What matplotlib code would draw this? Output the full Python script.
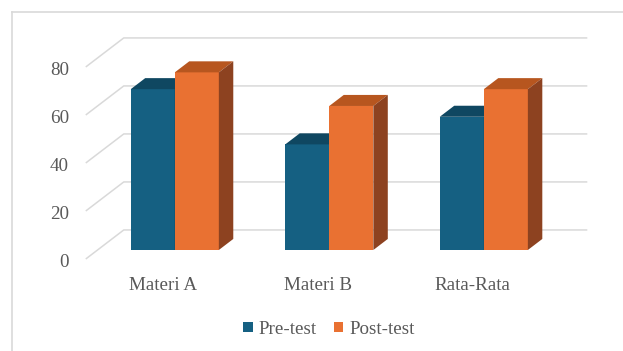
import matplotlib
matplotlib.use("Agg")
import matplotlib.pyplot as plt
from matplotlib.lines import Line2D
from matplotlib.patches import Patch, Polygon

categories = ["Materi A", "Materi B", "Rata-Rata"]
pre_test = [67, 44, 55.5]
post_test = [74, 60, 67]
series_names = ["Pre-test", "Post-test"]
y_ticks = [0, 20, 40, 60, 80]

# face colours: front, top, side
PRE = ("#156082", "#0f4761", "#0d3a50")
POST = ("#e97132", "#b7561f", "#8d4220")
GRID = "#d9d9d9"
TXT = "#595959"
FONT = ["Liberation Serif", "DejaVu Serif"]
FS = 13.7

# fake 3D: a point (x, v, depth 0..1) is drawn at (x + d*DX, v + d*DY)
DX, DY = 0.246, 12.1
D0, D1 = 0.31, 0.69          # bar depth span
BW = 0.285                   # bar width in category units

fig = plt.figure(figsize=(6.23, 3.51), dpi=100)
ax = fig.add_axes([0, 0, 1, 1])
ax.set_xlim(-1.055, 2.977)
ax.set_ylim(-38.33, 107.9)
ax.axis("off")

# floor / walls gridlines
x_left, x_right = -0.5, 2.5
for v in y_ticks:
    ax.plot([x_left, x_left + DX, x_right + DX], [v, v + DY, v + DY],
            color=GRID, lw=1.1, zorder=1, solid_capstyle="butt")
    ax.annotate(str(v), (x_left, v), xytext=(-17, -4), textcoords="offset pixels",
                ha="right", va="center", fontsize=FS, color=TXT, family=FONT)


def bar3d(x0, x1, v, cols):
    front, top, side = cols
    b = D0 * DY
    dd, dv = (D1 - D0) * DX, (D1 - D0) * DY
    ax.add_patch(Polygon([(x0, b), (x1, b), (x1, v + b), (x0, v + b)],
                         closed=True, fc=front, ec="none", zorder=3))
    ax.add_patch(Polygon([(x0, v + b), (x1, v + b), (x1 + dd, v + b + dv), (x0 + dd, v + b + dv)],
                         closed=True, fc=top, ec="none", zorder=3))
    ax.add_patch(Polygon([(x1, b), (x1 + dd, b + dv), (x1 + dd, v + b + dv), (x1, v + b)],
                         closed=True, fc=side, ec="none", zorder=3))


for i, (a, p) in enumerate(zip(pre_test, post_test)):
    c = i + D0 * DX
    bar3d(c - BW, c, a, PRE)
    bar3d(c, c + BW, p, POST)
    ax.annotate(categories[i], (i, 0), xytext=(0, -27), textcoords="offset pixels",
                ha="center", va="center", fontsize=FS, color=TXT, family=FONT)

# chart frame (left and top edges only visible)
fig.add_artist(Line2D([12 / 623, 12 / 623], [0, 1 - 12 / 351], transform=fig.transFigure,
                      color=GRID, lw=1.2))
fig.add_artist(Line2D([12 / 623, 1], [1 - 12 / 351, 1 - 12 / 351], transform=fig.transFigure,
                      color=GRID, lw=1.2))

handles = [Patch(fc=PRE[0], ec="none"), Patch(fc=POST[0], ec="none")]
leg = fig.legend(handles, series_names, loc="center", bbox_to_anchor=(0.528, 0.062),
                 ncol=2, frameon=False, handlelength=0.5, handleheight=0.5,
                 handletextpad=0.3, columnspacing=0.9,
                 prop={"family": FONT, "size": FS})
for t in leg.get_texts():
    t.set_color(TXT)

fig.savefig("out.png", dpi=100)
